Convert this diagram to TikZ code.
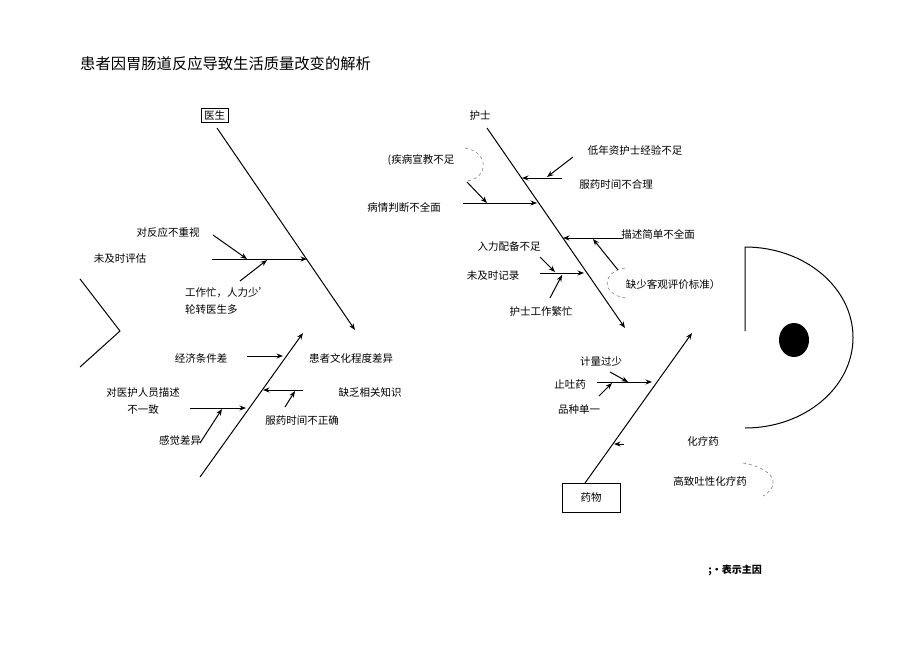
\documentclass[tikz,border=0pt]{standalone}
\usepackage{fontspec}
\setmainfont{Noto Sans CJK SC}
\usetikzlibrary{arrows.meta}

\tikzset{
	lbl/.style={font=\fontsize{10.5}{12}\selectfont,inner sep=0pt},
	bone/.style={->,line width=1pt},
	twig/.style={->,line width=1pt},
	note/.style={dashed,line width=.6pt,gray}
}

\begin{document}
\begin{tikzpicture}[>={Stealth[length=6.5pt,width=5pt]},x=1pt,y=-1pt]
	\useasboundingbox[fill=white] (0,0) rectangle (920,651);
	\node[anchor=west,inner sep=0pt,font=\fontsize{15.3}{17}\selectfont] (title) at (80,64) {患者因胃肠道反应导致生活质量改变的解析};

	% fish tail and head
	\draw[line width=1pt] (80,279) -- (120,331) -- (80,367);
	\draw[line width=1pt] (745,331) -- (745,247)
		.. controls (804.6,247) and (853,287.5) .. (853,337.5)
		.. controls (853,387.5) and (804.6,428) .. (745,428);
	\fill (794,340) ellipse [x radius=15pt,y radius=17pt];

	% doctor
	\node[lbl,draw,inner sep=2pt,minimum width=27pt,minimum height=14pt] (doc) at (214.5,115) {医生};
	\coordinate (d0) at (217,128); \coordinate (d1) at (355,330);
	\coordinate (d2) at (212,259); \coordinate (d3) at (307,259);
	\coordinate (d4) at (213,235); \coordinate (d5) at (247,259);
	\coordinate (d6) at (240,281); \coordinate (d7) at (267,260);
	\node[lbl] (d-a) at (168,232) {对反应不重视};
	\node[lbl] (d-b) at (120,259) {未及时评估};
	\node[lbl,anchor=west] (d-c) at (185,293) {工作忙，人力少’};
	\node[lbl,anchor=west] (d-d) at (185,310) {轮转医生多};

	% nurse
	\node[lbl] (nur) at (480,116) {护士};
	\coordinate (n0) at (487,128); \coordinate (n1) at (625,328);
	\coordinate (n2) at (573,157); \coordinate (n3) at (547,177);
	\coordinate (n4) at (562,178); \coordinate (n5) at (522,178);
	\coordinate (n6) at (467,182); \coordinate (n7) at (487,203);
	\coordinate (n8) at (463,203); \coordinate (n9) at (537,203);
	\coordinate (n10) at (623,238); \coordinate (n11) at (563,238);
	\coordinate (n12) at (618,270); \coordinate (n13) at (593,239);
	\coordinate (n14) at (540,273); \coordinate (n15) at (584,273);
	\coordinate (n16) at (540,257); \coordinate (n17) at (555,272);
	\coordinate (n18) at (550,298); \coordinate (n19) at (562,275);
	\node[lbl] (n-a) at (635,150) {低年资护士经验不足};
	\node[lbl] (n-b) at (616,184) {服药时间不合理};
	\node[lbl] (n-c) at (421,160) {(疾病宣教不足};
	\node[lbl] (n-d) at (404,207) {病情判断不全面};
	\node[lbl] (n-e) at (658,234) {描述简单不全面};
	\node[lbl] (n-f) at (673,285) {缺少客观评价标准）};
	\node[lbl] (n-g) at (509,247) {入力配备不足};
	\node[lbl] (n-h) at (493,276) {未及时记录};
	\node[lbl] (n-i) at (541,311) {护士工作繁忙};
	\draw[note] (465,148) .. controls (489,152) and (489,178) .. (467,181);
	\draw[note] (625,268) .. controls (601,272) and (601,295) .. (626,298);

	% patient
	\coordinate (p0) at (200,477); \coordinate (p1) at (303,333);
	\coordinate (p2) at (247,356); \coordinate (p3) at (283,356);
	\coordinate (p4) at (303,390); \coordinate (p5) at (263,390);
	\coordinate (p6) at (285,407); \coordinate (p7) at (295,391);
	\coordinate (p8) at (190,408); \coordinate (p9) at (246,408);
	\coordinate (p10) at (200,443); \coordinate (p11) at (222,409);
	\node[lbl] (p-a) at (201,358) {经济条件差};
	\node[lbl] (p-b) at (351,358) {患者文化程度差异};
	\node[lbl] (p-c) at (370,392) {缺乏相关知识};
	\node[lbl] (p-d) at (302,420) {服药时间不正确};
	\node[lbl] (p-e) at (143,393) {对医护人员描述};
	\node[lbl] (p-f) at (143,410) {不一致};
	\node[lbl] (p-g) at (180,441) {感觉差异};

	% medicine
	\node[lbl,draw,minimum width=58pt,minimum height=29pt] (med) at (591,497.5) {药物};
	\coordinate (m0) at (585,483); \coordinate (m1) at (692,333);
	\coordinate (m2) at (597,382); \coordinate (m3) at (652,382);
	\coordinate (m4) at (610,372); \coordinate (m5) at (628,382);
	\coordinate (m6) at (599,396); \coordinate (m7) at (612,383);
	\coordinate (m8) at (624,444); \coordinate (m9) at (614,444);
	\node[lbl] (m-a) at (601,362) {计量过少};
	\node[lbl] (m-b) at (570,384) {止吐药};
	\node[lbl] (m-c) at (579,410) {品种单一};
	\node[lbl] (m-d) at (703,441) {化疗药};
	\node[lbl] (m-e) at (710,481) {高致吐性化疗药};
	\draw[note] (743,463) .. controls (772,468) and (783,484) .. (763,496);

	\foreach \a/\b in {d0/d1,n0/n1,p0/p1,m0/m1}
		\draw[bone] (\a) -- (\b);
	\foreach \a/\b in {d2/d3,d4/d5,d6/d7,n2/n3,n4/n5,n6/n7,n8/n9,n10/n11,n12/n13,n14/n15,n16/n17,n18/n19,p2/p3,p4/p5,p6/p7,p8/p9,p10/p11,m2/m3,m4/m5,m6/m7,m8/m9}
		\draw[twig] (\a) -- (\b);

	\node[lbl,font=\fontsize{10}{12}\selectfont\bfseries] (key) at (735,570) {;•表示主因};
\end{tikzpicture}
\end{document}
